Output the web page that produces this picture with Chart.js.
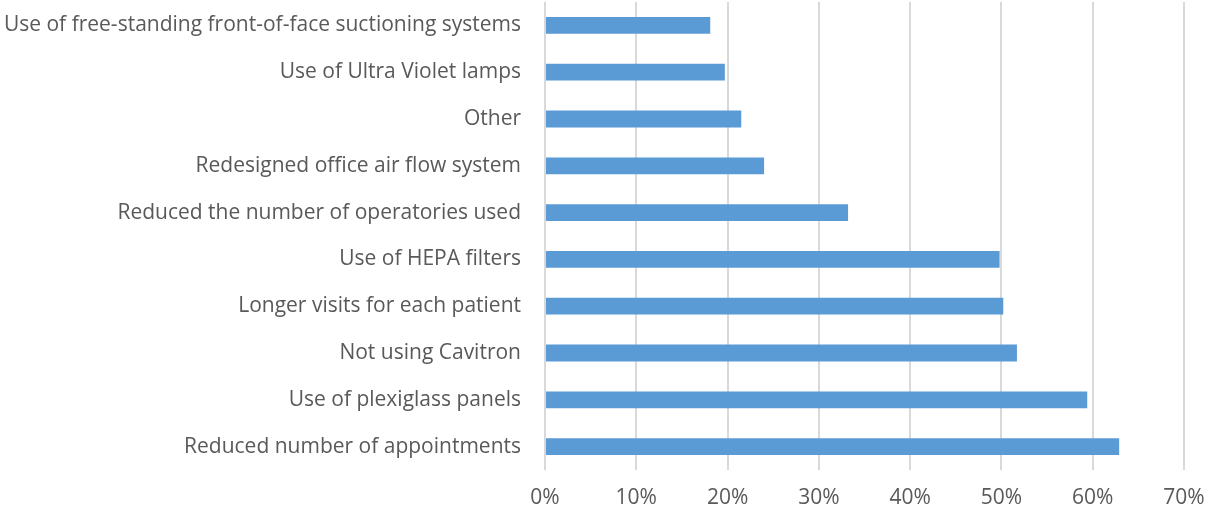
<!DOCTYPE html>
<html>
<head>
<meta charset="utf-8">
<script src="https://cdn.jsdelivr.net/npm/chart.js@4/dist/chart.umd.min.js"></script>
<style>
    html, body { margin: 0; padding: 0; background: #ffffff; }
    #wrap { width: 1214px; height: 513px; }
</style>
</head>
<body>
<div id="wrap"><canvas id="MeasuresChart"></canvas></div>
<script>
var categories = [
    "Use of free-standing front-of-face suctioning systems",
    "Use of Ultra Violet lamps",
    "Other",
    "Redesigned office air flow system",
    "Reduced the number of operatories used",
    "Use of HEPA filters",
    "Longer visits for each patient",
    "Not using Cavitron",
    "Use of plexiglass panels",
    "Reduced number of appointments"
];
var percentages = [18.1, 19.7, 21.5, 24.0, 33.2, 49.8, 50.2, 51.7, 59.4, 62.9];
var tickValues = [0, 10, 20, 30, 40, 50, 60, 70];

var labelFont = { family: "'Open Sans', 'Liberation Sans', sans-serif", size: 21 };

var measuresContext = document.getElementById("MeasuresChart").getContext("2d");
var measuresChart = new Chart(measuresContext, {
    type: "bar",
    data: {
        labels: categories,
        datasets: [{
            label: "Share",
            data: percentages,
            backgroundColor: '#5b9bd5',
            borderWidth: 0,
            barPercentage: 0.36,
            categoryPercentage: 1.0
        }]
    },
    options: {
        indexAxis: 'y',
        responsive: true,
        maintainAspectRatio: false,
        animation: false,
        layout: { padding: { top: 2, right: 30, bottom: 0, left: 0 } },
        plugins: {
            legend: { display: false },
            tooltip: { enabled: false }
        },
        scales: {
            x: {
                min: tickValues[0],
                max: tickValues[tickValues.length - 1],
                afterBuildTicks: function (axis) {
                    axis.ticks = tickValues.map(function (v) { return { value: v }; });
                },
                ticks: {
                    color: '#595959',
                    font: labelFont,
                    padding: 15,
                    maxRotation: 0,
                    callback: function (value) { return value + '%'; }
                },
                grid: { color: '#d9d9d9', lineWidth: 2, drawTicks: false },
                border: { display: false },
                afterFit: function (axis) {
                    axis.height = 43;
                    axis.paddingLeft = 0;
                    axis.paddingRight = 0;
                }
            },
            y: {
                ticks: { color: '#595959', font: labelFont, padding: 16 },
                grid: { display: false },
                border: { display: false },
                afterFit: function (axis) {
                    axis.width = 545;
                    axis.paddingTop = 0;
                    axis.paddingBottom = 0;
                }
            }
        }
    }
});
</script>
</body>
</html>
